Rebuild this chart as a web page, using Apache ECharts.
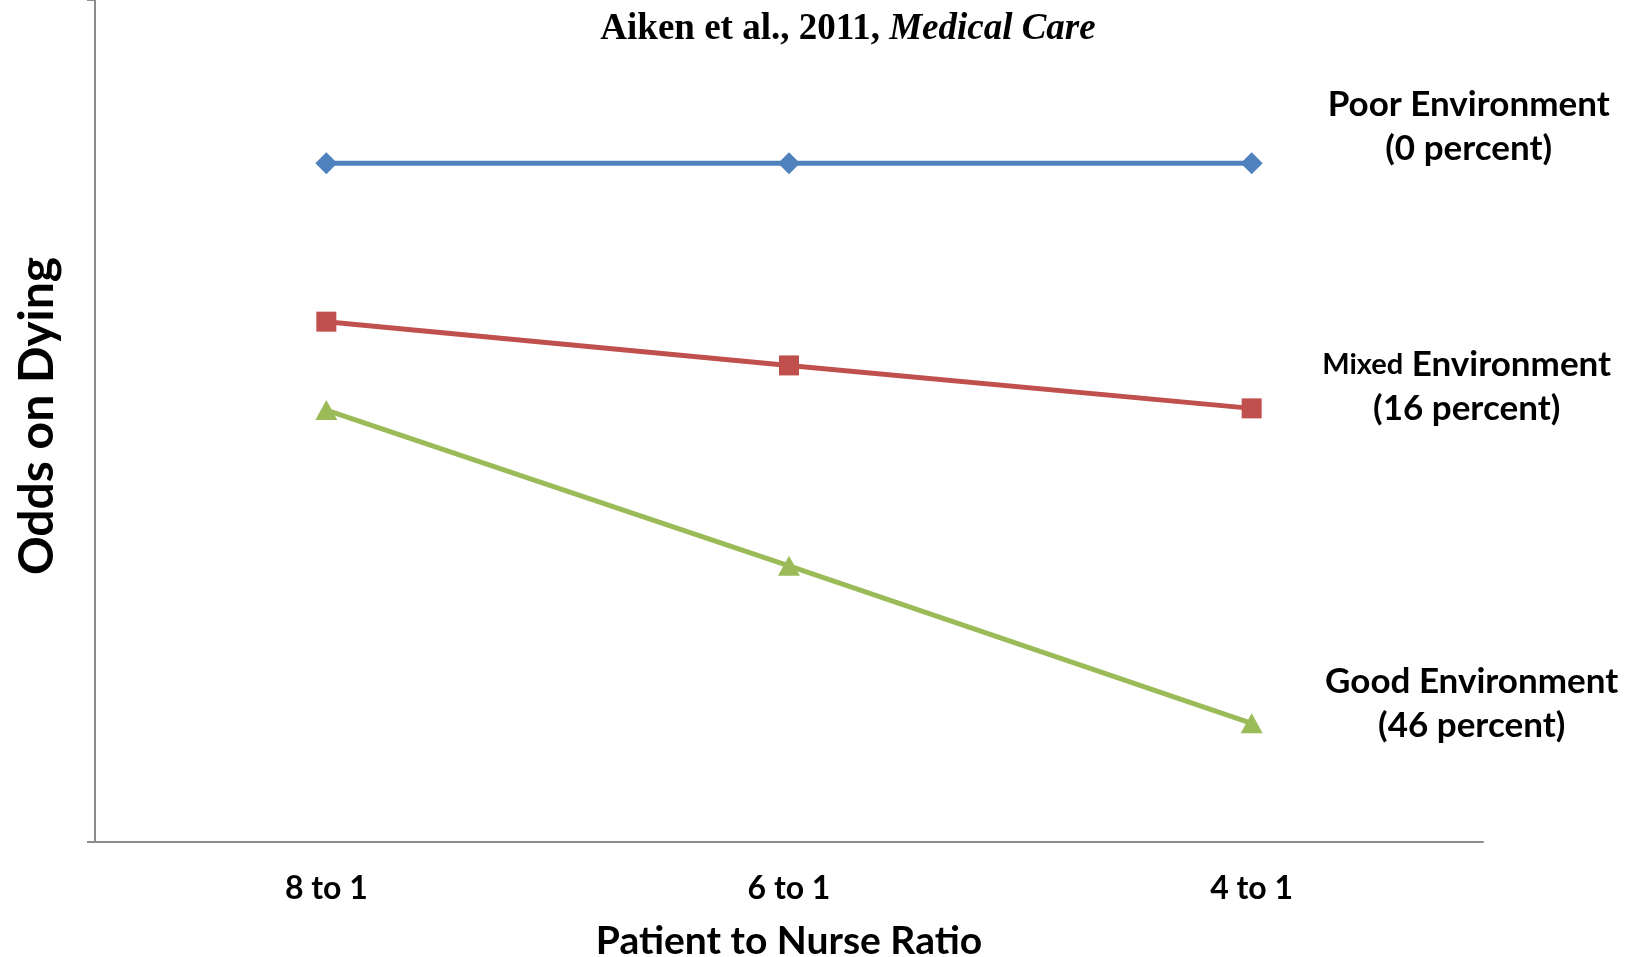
<!DOCTYPE html>
<html><head><meta charset="utf-8">
<script src="https://cdn.jsdelivr.net/npm/echarts@6/dist/echarts.min.js"></script>
<style>html,body{margin:0;padding:0;background:#fff}#c{width:1635px;height:957px}</style>
</head><body><div id="c"></div>
<script>
const categories = ['8 to 1', '6 to 1', '4 to 1'];
const poorValues = [80.6, 80.6, 80.6];
const mixedValues = [61.8, 56.6, 51.5];
const goodValues = [51.3, 32.8, 14.1];
const poorLabel = 'Poor Environment\n(0 percent)';
const mixedLabelA = 'Mixed';
const mixedLabelB = 'Environment';
const mixedLabelC = '(16 percent)';
const goodLabel = 'Good Environment\n(46 percent)';

const font = 'Lato';
const chart = echarts.init(document.getElementById('c'), null, {renderer: 'canvas'});
function endLbl(text, dx, dy, extra) {
  return Object.assign({
    show: true, formatter: text, offset: [dx, dy], align: 'center', verticalAlign: 'middle',
    fontFamily: font, fontWeight: 'bold', fontSize: 35, color: '#000', lineHeight: 44
  }, extra || {});
}
chart.setOption({
  animation: false,
  title: {
    text: '{a|Aiken et al., 2011, }{b|Medical Care}',
    left: 843, top: 6, textAlign: 'center',
    textStyle: {
      rich: {
        a: {fontFamily: 'Liberation Serif', fontWeight: 'bold', fontSize: 37, color: '#000'},
        b: {fontFamily: 'Liberation Serif', fontWeight: 'bold', fontStyle: 'italic', fontSize: 37, color: '#000'}
      }
    }
  },
  grid: {left: 95, right: 152, top: 0, bottom: 115, containLabel: false, outerBoundsMode: 'none'},
  xAxis: {
    type: 'category', data: categories, boundaryGap: true,
    axisLine: {lineStyle: {color: '#8c8c8c', width: 2}},
    axisTick: {show: false},
    axisLabel: {fontFamily: font, fontWeight: 'bold', fontSize: 32, color: '#000', margin: 31},
    name: 'Patient to Nurse Ratio', nameLocation: 'middle', nameGap: 80,
    nameTextStyle: {fontFamily: font, fontWeight: 'bold', fontSize: 39, color: '#000'}
  },
  yAxis: {
    type: 'value', min: 0, max: 100, interval: 100,
    axisLine: {show: true, lineStyle: {color: '#8c8c8c', width: 2}},
    axisTick: {show: true, length: 8, lineStyle: {color: '#8c8c8c', width: 2}},
    axisLabel: {show: false},
    splitLine: {show: false},
    name: 'Odds on Dying', nameLocation: 'middle', nameGap: 33, nameRotate: 90,
    nameTextStyle: {fontFamily: font, fontWeight: 'bold', fontSize: 48, color: '#000', padding: [0, 0, 0, 10]}
  },
  series: [
    {
      name: 'Poor', type: 'line', data: poorValues, symbol: 'diamond', symbolSize: [22, 22],
      lineStyle: {color: '#4F81BD', width: 5}, itemStyle: {color: '#4F81BD'},
      endLabel: endLbl(poorLabel, 209, -37)
    },
    {
      name: 'Mixed', type: 'line', data: mixedValues, symbol: 'rect', symbolSize: [20, 20],
      lineStyle: {color: '#C0504D', width: 5}, itemStyle: {color: '#C0504D'},
      endLabel: endLbl('{s|' + mixedLabelA + '} {b|' + mixedLabelB + '}\n{b|' + mixedLabelC + '}', 207, -22, {
        rich: {
          s: {fontFamily: font, fontWeight: 'bold', fontSize: 29, color: '#000', lineHeight: 44},
          b: {fontFamily: font, fontWeight: 'bold', fontSize: 35, color: '#000', lineHeight: 44}
        }
      })
    },
    {
      name: 'Good', type: 'line', data: goodValues, symbol: 'triangle', symbolSize: [22, 20],
      lineStyle: {color: '#9BBB59', width: 5}, itemStyle: {color: '#9BBB59'},
      endLabel: endLbl(goodLabel, 212, -20)
    }
  ]
});
</script></body></html>
